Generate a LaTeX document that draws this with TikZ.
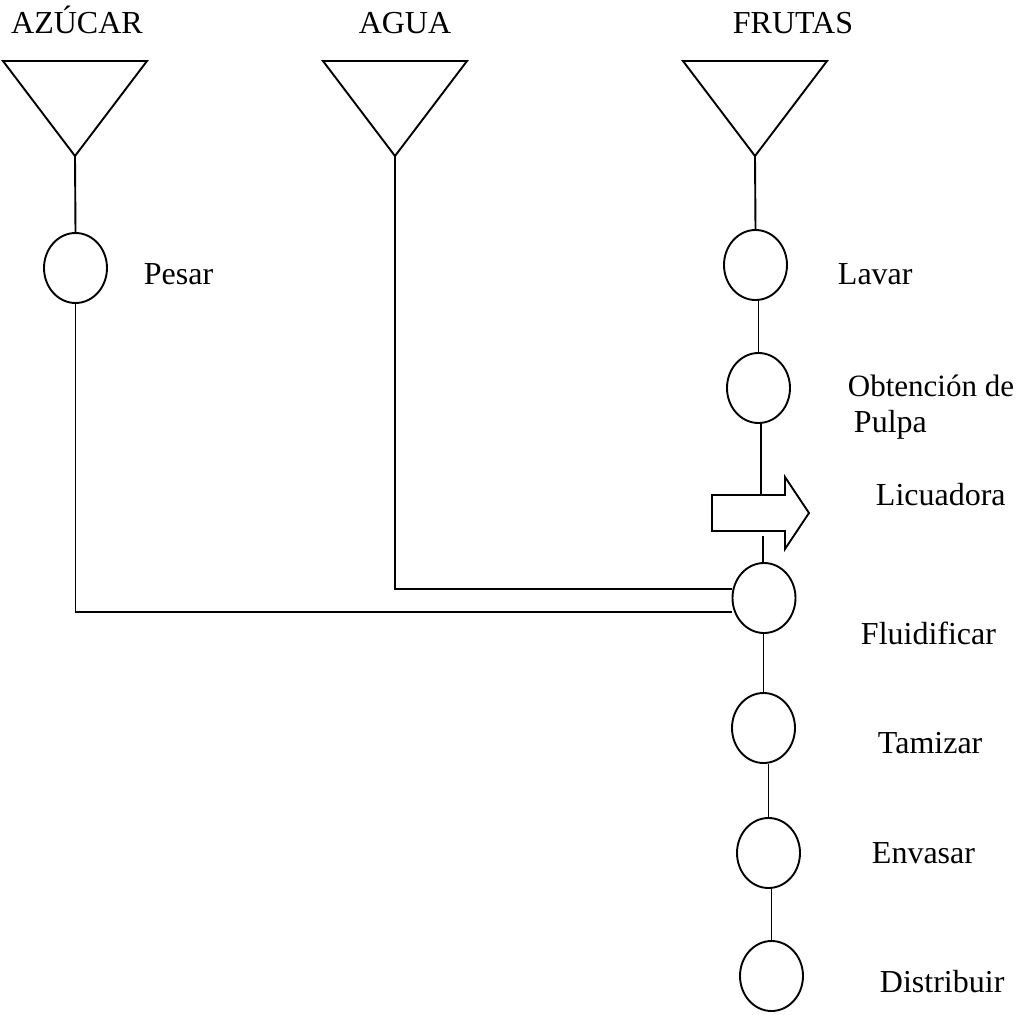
\documentclass[tikz,border=0pt]{standalone}
\usepackage{fontspec}
\setmainfont{Liberation Serif}
\usetikzlibrary{shapes.geometric}

\tikzset{
    etapa/.style={draw, ellipse, minimum width=63pt, minimum height=70pt, inner sep=0pt},
    rotulo/.style={anchor=base west, inner sep=0pt, font=\fontsize{32}{36}\selectfont},
    titulo/.style={anchor=base, inner sep=0pt, font=\fontsize{32}{36}\selectfont},
}

\begin{document}
\begin{tikzpicture}[x=1pt, y=-1pt, line width=1.9pt]
    \pgfmathsetmacro{\ytop}{61}% borde superior de los triángulos
    \pgfmathsetmacro{\yapex}{156}% vértice inferior
    \pgfmathsetmacro{\w}{72}% medio ancho del triángulo

    \useasboundingbox (0, 0) rectangle (1018, 1015);

    % materias primas (almacenes)
    \node[titulo] (tazucar) at (77, 33) {AZÚCAR};
    \node[titulo] (tagua) at (405, 33) {AGUA};
    \node[titulo] (tfrutas) at (793, 33) {FRUTAS};

    \coordinate (azucar) at (75, \yapex);
    \coordinate (agua) at (395, \yapex);
    \coordinate (frutas) at (755, \yapex);

    \draw (75 - \w, \ytop) -- (75 + \w, \ytop) -- (azucar) -- cycle;
    \draw (395 - \w, \ytop) -- (395 + \w, \ytop) -- (agua) -- cycle;
    \draw (755 - \w, \ytop) -- (755 + \w, \ytop) -- (frutas) -- cycle;

    % operaciones
    \node[etapa] (pesar) at (75.5, 268) {};
    \node[etapa] (lavar) at (755.5, 265) {};
    \node[etapa] (obt) at (758.5, 388) {};
    \node[etapa] (fluid) at (764, 598) {};
    \node[etapa] (tamiz) at (763.5, 728) {};
    \node[etapa] (envas) at (768.5, 853) {};
    \node[etapa] (distr) at (771.5, 976) {};

    \node[rotulo] (lpesar) at (143, 284) {Pesar};
    \node[rotulo] (llavar) at (837, 284) {Lavar};
    \node[rotulo, font=\fontsize{31}{36}\selectfont] (lobt) at (847, 396) {Obtención de};
    \node[rotulo] (lpulpa) at (853, 432) {Pulpa};
    \node[rotulo] (llicua) at (875, 505) {Licuadora};
    \node[rotulo] (lfluid) at (860, 644) {Fluidificar};
    \node[rotulo] (ltamiz) at (877, 753) {Tamizar};
    \node[rotulo] (lenvas) at (871, 863) {Envasar};
    \node[rotulo] (ldistr) at (879, 992) {Distribuir};

    % flecha (licuadora)
    \coordinate (licua) at (712, 513);
    \coordinate (licuarr) at (761, 495);
    \coordinate (licuab) at (763, 536);
    \draw[fill=white] (licua) ++(0, -18) -- ++(73, 0) -- ++(0, -18) -- ++(24, 36)
        -- ++(-24, 36) -- ++(0, -18) -- ++(-73, 0) -- cycle;

    % uniones
    \draw (azucar) -- (pesar.north);
    \draw (frutas) -- (lavar.north);
    \draw (lavar.south -| obt.north) -- (obt.north);
    \draw (obt.south -| licuarr) -- (licuarr);
    \draw (licuab) -- (licuab |- fluid.north);
    \draw (fluid.south -| tamiz.north) -- (tamiz.north);
    \draw (tamiz.south -| envas.north) -- (envas.north);
    \draw (envas.south -| distr.north) -- (distr.north);

    \draw (agua) |- ([yshift=9pt]fluid.west);
    \draw (pesar.south) |- ([yshift=-14pt]fluid.west);
\end{tikzpicture}
\end{document}
